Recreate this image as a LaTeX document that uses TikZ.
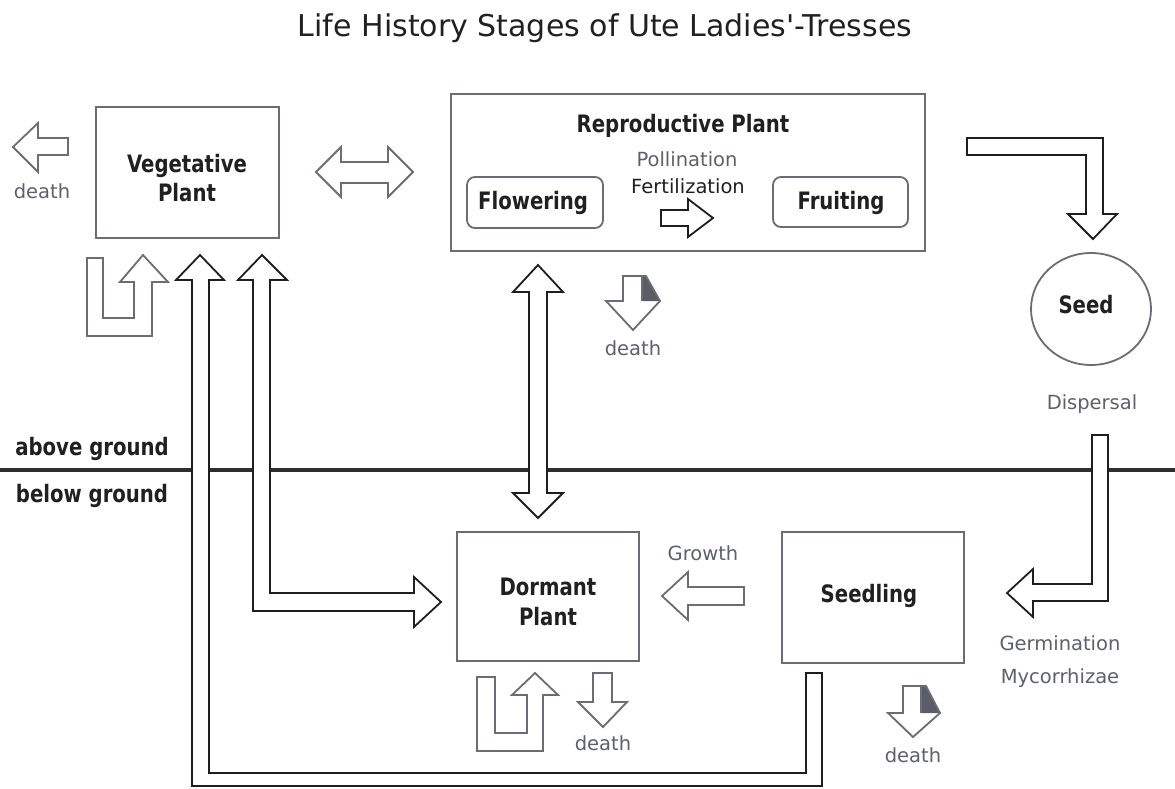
\documentclass[tikz,border=0pt]{standalone}
\usepackage{fontspec}
\setmainfont{DejaVu Sans}[Ligatures=TeXOff]
\newfontfamily\boldfam{DejaVu Sans}[Ligatures=TeXOff, FakeStretch=0.82]
\usetikzlibrary{shapes.geometric}
\definecolor{gline}{HTML}{6A6D75}
\definecolor{dline}{HTML}{1E1E1E}
\definecolor{gtext}{HTML}{5C616C}
\definecolor{dtext}{HTML}{202020}
\definecolor{shadec}{HTML}{5A5D66}
\definecolor{groundc}{HTML}{2E2E2E}
\tikzset{
  boxframe/.style={draw=gline, line width=1.8pt, inner sep=0pt},
  garrow/.style={draw=gline, fill=white, line width=1.8pt, line join=miter},
  barrow/.style={draw=dline, fill=white, line width=1.8pt, line join=miter},
  lbl/.style={text=gtext, font=\fontsize{19.5}{20}\selectfont, anchor=base, inner sep=0pt},
  dlbl/.style={text=dtext, font=\fontsize{19.5}{20}\selectfont, anchor=base, inner sep=0pt},
  blbl/.style={text=dtext, font=\boldfam\bfseries\fontsize{24}{26}\selectfont, anchor=base, inner sep=0pt},
}
\begin{document}
\begin{tikzpicture}[x=1pt,y=-1pt]
\useasboundingbox[fill=white] (0,0) rectangle (1175,789);

% title
\node[text=dtext, font=\fontsize{30}{32}\selectfont, anchor=base, inner sep=0pt] (title) at (605,37) {Life History Stages of Ute Ladies'-Tresses};

% boxes
\node[boxframe, minimum width=183pt, minimum height=131pt] (veg) at (187.5,172.5) {};
\node[boxframe, minimum width=474pt, minimum height=157pt] (rep) at (688,172.5) {};
\node[boxframe, rounded corners=8pt, minimum width=136pt, minimum height=51pt] (flow) at (535,202.5) {};
\node[boxframe, rounded corners=8pt, minimum width=135pt, minimum height=50pt] (fruit) at (840.5,202) {};
\node[boxframe, minimum width=182pt, minimum height=129pt] (dorm) at (548,596.5) {};
\node[boxframe, minimum width=182pt, minimum height=131pt] (seedl) at (873,597.5) {};
\node[draw=gline, line width=1.8pt, ellipse, minimum width=120pt, minimum height=112pt, inner sep=0pt] (seed) at (1091,309) {};

% labels in boxes
\node[blbl] (vegA) at (187,172) {Vegetative};
\node[blbl] (vegB) at (187,201) {Plant};
\node[blbl] (repT) at (683,132) {Reproductive Plant};
\node[blbl] (flowT) at (533,209) {Flowering};
\node[blbl] (fruitT) at (841,209) {Fruiting};
\node[lbl] (pollT) at (687,166) {Pollination};
\node[dlbl] (fertT) at (688,193) {Fertilization};
\node[blbl] (seedT) at (1086,313) {Seed};
\node[lbl] (dispT) at (1092,409) {Dispersal};
\node[blbl] (dormA) at (548,595) {Dormant};
\node[blbl] (dormB) at (548,625) {Plant};
\node[blbl] (seedlT) at (869,602) {Seedling};
\node[lbl] (growT) at (703,560) {Growth};
\node[lbl] (germT) at (1060,650) {Germination};
\node[lbl] (mycT) at (1060,683) {Mycorrhizae};
\node[blbl] (aboveT) at (92,455) {above ground};
\node[blbl] (belowT) at (92,502) {below ground};
\node[lbl] (deathV) at (42,198) {death};
\node[lbl] (deathR) at (633,355) {death};
\node[lbl] (deathD) at (603,750) {death};
\node[lbl] (deathS) at (913,762) {death};

% ground line
\draw[groundc, line width=3.5pt] (0,470) -- (1175,470);

% vegetative death arrow
\draw[garrow] (13,147) -- (38,123) -- (38,138) -- (68,138) -- (68,155) -- (38,155) -- (38,172) -- cycle;
% vegetative <-> reproductive
\draw[garrow] (316,172) -- (341,147) -- (341,162) -- (388,162) -- (388,147) -- (413,172) -- (388,197) -- (388,183) -- (341,183) -- (341,197) -- cycle;
% pollination arrow
\draw[barrow] (661,210) -- (688,210) -- (688,199) -- (713,218) -- (688,237) -- (688,226) -- (661,226) -- cycle;
% reproductive -> seed
\draw[barrow] (967,138) -- (1103,138) -- (1103,214) -- (1117,214) -- (1093,239) -- (1068,214) -- (1086,214) -- (1086,155) -- (967,155) -- cycle;
% dispersal -> seedling
\draw[barrow] (1092,435) -- (1108,435) -- (1108,601) -- (1033,601) -- (1033,617) -- (1007,593) -- (1033,569) -- (1033,584) -- (1092,584) -- cycle;
% reproductive <-> dormant
\draw[barrow] (538,265) -- (563,292) -- (547,292) -- (547,493) -- (563,493) -- (538,518) -- (513,493) -- (529,493) -- (529,292) -- (513,292) -- cycle;
% reproductive death arrow (shaded)
\fill[shadec] (642,276) -- (646,276) -- (660,301) -- (642,301) -- cycle;
\draw[garrow, fill=none] (623,276) -- (646,276) -- (660,301) -- (633,330) -- (606,301) -- (623,301) -- cycle;
\draw[gline, line width=1.2pt] (642,276) -- (642,301);
% vegetative self loop
\draw[garrow] (87,258) -- (103,258) -- (103,318) -- (134,318) -- (134,282) -- (120,282) -- (143,255) -- (168,282) -- (152,282) -- (152,336) -- (87,336) -- cycle;
% seedling -> vegetative
\draw[barrow] (806,673) -- (822,673) -- (822,786) -- (192,786) -- (192,280) -- (176,280) -- (200,255) -- (224,280) -- (209,280) -- (209,773) -- (806,773) -- cycle;
% vegetative <-> dormant
\draw[barrow] (238,280) -- (262,255) -- (287,280) -- (270,280) -- (270,593) -- (414,593) -- (414,577) -- (441,602) -- (414,627) -- (414,611) -- (253,611) -- (253,280) -- cycle;
% growth arrow
\draw[garrow] (662,596) -- (688,572) -- (688,587) -- (744,587) -- (744,605) -- (688,605) -- (688,620) -- cycle;
% dormant self loop
\draw[garrow] (477,677) -- (495,677) -- (495,733) -- (527,733) -- (527,695) -- (512,695) -- (535,673) -- (558,695) -- (543,695) -- (543,751) -- (477,751) -- cycle;
% dormant death arrow
\draw[garrow] (593,673) -- (612,673) -- (612,702) -- (627,702) -- (603,727) -- (578,702) -- (593,702) -- cycle;
% seedling death arrow (shaded)
\fill[shadec] (921,686) -- (926,686) -- (940,713) -- (921,713) -- cycle;
\draw[garrow, fill=none] (903,686) -- (926,686) -- (940,713) -- (913,737) -- (888,713) -- (903,713) -- cycle;
\draw[gline, line width=1.2pt] (921,686) -- (921,713);
\end{tikzpicture}
\end{document}
